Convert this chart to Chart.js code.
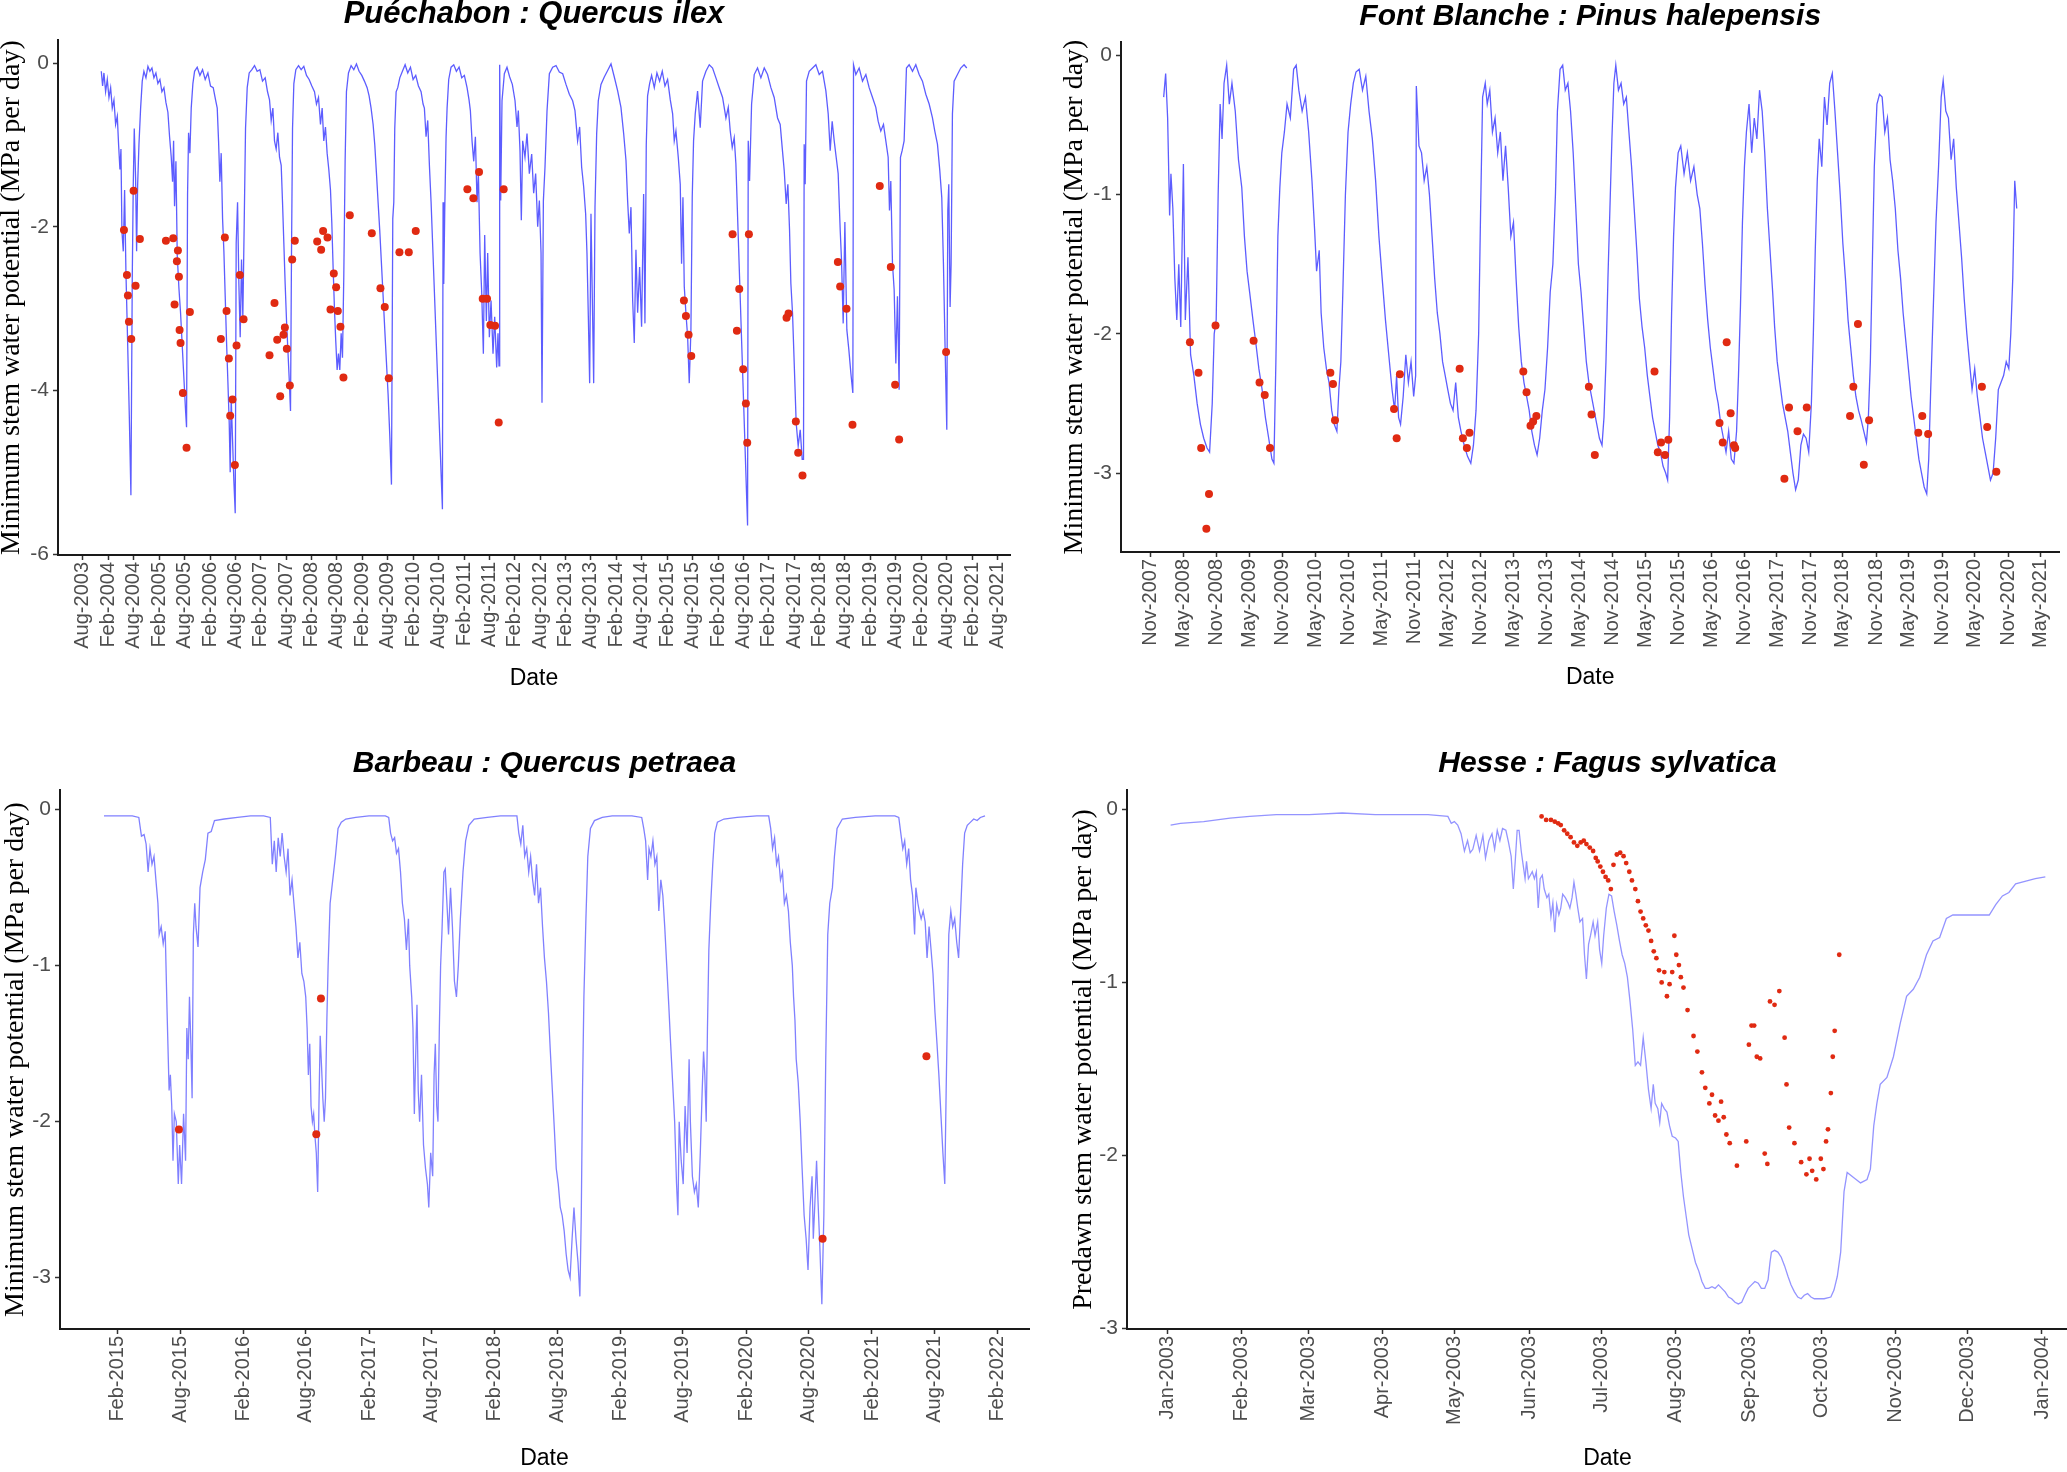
<!DOCTYPE html>
<html>
<head>
<meta charset="utf-8">
<title>Stem water potential</title>
<script src="https://cdn.jsdelivr.net/npm/chart.js@4.4.1/dist/chart.umd.min.js"></script>
<style>
  html, body { margin: 0; padding: 0; background: #fff; }
  body { width: 2067px; height: 1472px; position: relative; overflow: hidden; }
  .panel { position: absolute; }
</style>
</head>
<body>
<div class="panel" style="left:-20px;top:-10px"><canvas id="puechabon" width="1053" height="746"></canvas></div>
<div class="panel" style="left:1033px;top:-10px"><canvas id="fontblanche" width="1034" height="746"></canvas></div>
<div class="panel" style="left:-20px;top:736px"><canvas id="barbeau" width="1053" height="740"></canvas></div>
<div class="panel" style="left:1033px;top:736px"><canvas id="hesse" width="1060" height="740"></canvas></div>
<script>
// ---- Puéchabon (decimal years) ----
const puechabonYear = [
  2003.945,2003.971,2003.997,2004.030,2004.063,2004.096,2004.129,2004.161,2004.194,2004.227,2004.260,2004.286,2004.312,2004.332,
  2004.351,2004.378,2004.404,2004.430,2004.463,2004.496,2004.528,2004.555,2004.574,2004.594,2004.620,2004.640,2004.660,2004.686,
  2004.719,2004.751,2004.784,2004.824,2004.863,2004.902,2004.942,2004.981,2005.020,2005.059,2005.099,2005.138,2005.178,2005.217,
  2005.256,2005.289,2005.322,2005.348,2005.368,2005.387,2005.414,2005.440,2005.473,2005.505,2005.538,2005.571,2005.604,2005.623,
  2005.643,2005.663,2005.689,2005.715,2005.748,2005.781,2005.833,2005.886,2005.938,2005.990,2006.043,2006.095,2006.148,2006.194,
  2006.227,2006.253,2006.279,2006.305,2006.332,2006.358,2006.384,2006.410,2006.437,2006.463,2006.482,2006.502,2006.528,2006.554,
  2006.581,2006.600,2006.627,2006.653,2006.679,2006.705,2006.731,2006.758,2006.784,2006.817,2006.856,2006.909,2006.961,2007.013,
  2007.066,2007.118,2007.171,2007.217,2007.256,2007.289,2007.322,2007.354,2007.387,2007.420,2007.453,2007.486,2007.512,2007.538,
  2007.564,2007.591,2007.617,2007.643,2007.669,2007.689,2007.709,2007.735,2007.774,2007.827,2007.879,2007.931,2007.984,2008.036,
  2008.089,2008.141,2008.180,2008.220,2008.259,2008.292,2008.324,2008.357,2008.390,2008.423,2008.456,2008.482,2008.508,2008.534,
  2008.560,2008.587,2008.613,2008.639,2008.666,2008.692,2008.718,2008.744,2008.770,2008.810,2008.862,2008.915,2008.967,2009.019,
  2009.072,2009.124,2009.177,2009.216,2009.255,2009.295,2009.328,2009.361,2009.393,2009.426,2009.459,2009.492,2009.524,2009.557,
  2009.590,2009.623,2009.656,2009.682,2009.702,2009.721,2009.748,2009.780,2009.820,2009.872,2009.925,2009.977,2010.030,2010.082,
  2010.134,2010.187,2010.239,2010.278,2010.304,2010.337,2010.370,2010.403,2010.436,2010.659,2010.672,2010.685,2010.705,2010.731,
  2010.751,2010.783,2010.829,2010.882,2010.934,2010.987,2011.039,2011.091,2011.144,2011.183,2011.209,2011.242,2011.275,2011.308,
  2011.340,2011.367,2011.400,2011.432,2011.465,2011.491,2011.524,2011.550,2011.583,2011.616,2011.655,2011.688,2011.727,2011.753,
  2011.773,2011.786,2011.806,2011.832,2011.878,2011.930,2011.983,2012.035,2012.088,2012.127,2012.153,2012.186,2012.212,2012.239,
  2012.284,2012.324,2012.370,2012.416,2012.455,2012.494,2012.534,2012.567,2012.600,2012.619,2012.646,2012.678,2012.718,2012.764,
  2012.829,2012.895,2012.960,2013.026,2013.091,2013.157,2013.222,2013.268,2013.320,2013.360,2013.399,2013.439,2013.478,2013.504,
  2013.531,2013.557,2013.583,2013.610,2013.636,2013.662,2013.695,2013.727,2013.780,2013.845,2013.911,2013.977,2014.042,2014.108,
  2014.173,2014.226,2014.272,2014.304,2014.337,2014.370,2014.403,2014.435,2014.468,2014.501,2014.540,2014.579,2014.619,2014.645,
  2014.671,2014.697,2014.737,2014.776,2014.829,2014.881,2014.934,2014.986,2015.039,2015.091,2015.144,2015.190,2015.222,2015.255,
  2015.301,2015.340,2015.366,2015.393,2015.419,2015.452,2015.485,2015.517,2015.550,2015.576,2015.602,2015.635,2015.681,2015.733,
  2015.779,2015.845,2015.911,2015.976,2016.042,2016.107,2016.173,2016.239,2016.285,2016.324,2016.363,2016.402,2016.435,2016.665,
  2016.678,2016.704,2016.744,2016.796,2016.861,2016.927,2016.993,2017.058,2017.124,2017.189,2017.255,2017.307,2017.346,2017.386,
  2017.425,2017.458,2017.491,2017.517,2017.550,2017.583,2017.622,2017.661,2017.701,2017.740,2017.766,2017.779,2017.799,2017.825,
  2017.878,2017.944,2018.009,2018.075,2018.140,2018.206,2018.252,2018.291,2018.330,2018.370,2018.409,2018.448,2018.488,2018.514,
  2018.547,2018.580,2018.619,2018.658,2018.698,2018.737,2018.750,2018.796,2018.861,2018.927,2018.993,2019.058,2019.124,2019.189,
  2019.235,2019.287,2019.340,2019.386,2019.432,2019.458,2019.484,2019.517,2019.550,2019.583,2019.615,2019.648,2019.674,2019.707,
  2019.746,2019.792,2019.845,2019.911,2019.976,2020.042,2020.107,2020.173,2020.239,2020.304,2020.350,2020.402,2020.448,2020.487,
  2020.520,2020.553,2020.586,2020.606,2020.625,2020.651,2020.671,2020.697,2020.730,2020.796,2020.861,2020.926,2020.979
];
const puechabonPsi = [
  -0.10,-0.28,-0.12,-0.35,-0.20,-0.42,-0.30,-0.55,-0.45,-0.75,-0.65,-1.00,-1.30,-1.05,
  -2.05,-2.30,-1.55,-2.55,-3.40,-4.30,-5.28,-2.60,-1.50,-0.80,-1.40,-2.30,-1.50,-1.00,
  -0.55,-0.22,-0.10,-0.18,-0.04,-0.10,-0.06,-0.18,-0.12,-0.25,-0.20,-0.35,-0.30,-0.48,
  -0.60,-0.90,-1.15,-1.45,-0.95,-1.75,-1.20,-2.35,-2.75,-3.05,-3.45,-3.85,-4.25,-4.45,
  -1.60,-0.85,-1.10,-0.55,-0.25,-0.10,-0.05,-0.15,-0.08,-0.20,-0.12,-0.28,-0.30,-0.45,
  -0.55,-0.95,-1.45,-1.10,-1.90,-2.30,-2.85,-3.40,-3.90,-4.40,-5.00,-4.10,-4.60,-5.10,
  -5.50,-2.20,-1.70,-2.70,-3.35,-2.40,-3.10,-1.95,-0.80,-0.30,-0.12,-0.08,-0.03,-0.10,
  -0.08,-0.22,-0.18,-0.35,-0.45,-0.70,-0.55,-0.95,-1.05,-0.85,-1.15,-1.25,-1.70,-2.20,
  -2.70,-3.15,-3.50,-3.85,-4.25,-2.30,-0.80,-0.25,-0.08,-0.03,-0.08,-0.04,-0.15,-0.20,
  -0.28,-0.35,-0.50,-0.42,-0.75,-0.55,-0.95,-0.78,-1.10,-1.30,-1.55,-1.95,-2.50,-3.00,
  -3.40,-3.75,-3.55,-3.75,-3.30,-3.60,-2.60,-1.20,-0.35,-0.12,-0.03,-0.08,-0.01,-0.10,
  -0.15,-0.22,-0.30,-0.40,-0.55,-0.75,-1.00,-1.35,-1.70,-2.05,-2.45,-2.85,-3.25,-3.65,
  -4.05,-4.55,-5.15,-1.90,-1.70,-0.80,-0.35,-0.30,-0.18,-0.10,-0.02,-0.12,-0.05,-0.20,
  -0.15,-0.28,-0.35,-0.50,-0.55,-0.90,-0.70,-1.25,-1.70,-5.45,-1.70,-2.70,-1.80,-0.90,
  -0.55,-0.20,-0.05,-0.02,-0.10,-0.05,-0.18,-0.15,-0.30,-0.45,-0.58,-0.95,-1.20,-0.90,
  -1.70,-1.35,-2.32,-2.80,-3.55,-2.10,-3.15,-2.32,-3.35,-2.90,-3.55,-3.10,-3.72,-3.30,
  -3.70,-0.02,-1.68,-0.46,-0.13,-0.05,-0.17,-0.26,-0.46,-0.78,-0.58,-1.07,-1.92,-0.95,
  -1.15,-0.86,-1.35,-1.11,-1.59,-1.35,-2.00,-1.68,-2.32,-4.15,-1.68,-1.27,-0.58,-0.13,
  -0.05,-0.03,-0.11,-0.13,-0.26,-0.38,-0.46,-0.58,-0.95,-0.78,-1.27,-1.51,-1.84,-2.32,
  -3.10,-3.91,-1.84,-2.89,-3.91,-1.76,-0.86,-0.46,-0.26,-0.17,-0.09,-0.01,-0.17,-0.34,
  -0.54,-0.86,-1.19,-1.68,-2.08,-1.76,-2.89,-3.42,-2.28,-3.05,-2.49,-3.22,-1.60,-3.18,
  -1.00,-0.40,-0.25,-0.15,-0.30,-0.12,-0.22,-0.10,-0.28,-0.20,-0.45,-0.62,-0.95,-0.83,
  -1.15,-1.48,-2.45,-1.64,-2.73,-3.06,-3.34,-3.91,-3.26,-1.64,-0.95,-0.62,-0.34,-0.79,
  -0.22,-0.10,-0.02,-0.06,-0.18,-0.30,-0.42,-0.67,-0.54,-0.83,-1.03,-0.91,-1.23,-5.65,
  -0.95,-1.44,-0.50,-0.14,-0.06,-0.18,-0.06,-0.14,-0.30,-0.42,-0.67,-0.75,-1.03,-1.31,
  -1.72,-1.48,-2.04,-2.69,-3.06,-3.67,-4.40,-4.68,-4.48,-4.84,-4.84,-0.99,-1.48,-0.22,
  -0.10,-0.06,-0.02,-0.14,-0.10,-0.34,-0.62,-1.07,-0.71,-0.95,-1.15,-1.35,-2.04,-2.41,
  -3.18,-1.94,-3.26,-3.50,-3.79,-4.03,-0.02,-0.14,-0.06,-0.22,-0.14,-0.30,-0.42,-0.54,
  -0.71,-0.83,-0.75,-0.95,-1.15,-1.80,-1.44,-2.45,-2.77,-3.67,-2.85,-3.99,-1.15,-1.07,
  -0.95,-0.06,-0.02,-0.10,-0.02,-0.14,-0.22,-0.38,-0.50,-0.67,-0.83,-0.99,-1.31,-1.64,
  -2.45,-3.50,-4.48,-1.80,-1.48,-2.98,-2.45,-0.62,-0.22,-0.14,-0.06,-0.02,-0.06
];
const puechabonObsYear = [
  2004.391,2004.450,2004.469,2004.489,2004.535,2004.581,2004.620,2004.705,2005.217,2005.361,2005.387,2005.433,2005.453,2005.473,
  2005.486,2005.505,2005.551,2005.623,2005.689,2006.299,2006.377,2006.410,2006.456,2006.482,2006.528,2006.574,2006.607,2006.672,
  2006.745,2007.256,2007.354,2007.407,2007.466,2007.531,2007.558,2007.597,2007.656,2007.702,2007.754,2008.194,2008.272,2008.311,
  2008.397,2008.456,2008.521,2008.567,2008.600,2008.652,2008.711,2008.836,2009.269,2009.439,2009.524,2009.603,2009.813,2009.997,
  2010.134,2011.150,2011.268,2011.380,2011.452,2011.537,2011.603,2011.695,2011.767,2011.865,2015.412,2015.452,2015.504,2015.557,
  2016.370,2016.455,2016.501,2016.579,2016.632,2016.658,2016.691,2017.432,2017.471,2017.615,2017.661,2017.746,2018.442,2018.487,
  2018.612,2018.730,2019.267,2019.484,2019.569,2019.648,2020.572
];
const puechabonObsPsi = [
  -2.04,-2.59,-2.84,-3.16,-3.37,-1.56,-2.72,-2.15,-2.17,-2.14,-2.95,-2.42,-2.29,-2.61,
  -3.26,-3.42,-4.03,-4.70,-3.04,-3.37,-2.13,-3.03,-3.61,-4.31,-4.11,-4.91,-3.45,-2.59,
  -3.13,-3.57,-2.93,-3.38,-4.07,-3.32,-3.23,-3.49,-3.94,-2.40,-2.17,-2.18,-2.28,-2.05,
  -2.13,-3.01,-2.57,-2.74,-3.03,-3.22,-3.84,-1.86,-2.08,-2.75,-2.98,-3.85,-2.31,-2.31,
  -2.05,-1.54,-1.65,-1.33,-2.88,-2.88,-3.20,-3.21,-4.39,-1.54,-2.90,-3.09,-3.32,-3.58,
  -2.09,-3.27,-2.76,-3.74,-4.16,-4.64,-2.09,-3.11,-3.06,-4.38,-4.76,-5.04,-2.43,-2.73,
  -3.00,-4.42,-1.50,-2.49,-3.93,-4.60,-3.53
];
const puechabonTickLabels = [
  "Aug-2003","Feb-2004","Aug-2004","Feb-2005","Aug-2005","Feb-2006","Aug-2006","Feb-2007","Aug-2007","Feb-2008",
  "Aug-2008","Feb-2009","Aug-2009","Feb-2010","Aug-2010","Feb-2011","Aug-2011","Feb-2012","Aug-2012","Feb-2013",
  "Aug-2013","Feb-2014","Aug-2014","Feb-2015","Aug-2015","Feb-2016","Aug-2016","Feb-2017","Aug-2017","Feb-2018",
  "Aug-2018","Feb-2019","Aug-2019","Feb-2020","Aug-2020","Feb-2021","Aug-2021"
];
const puechabonYTicks = [0, -2, -4, -6];

// ---- Font Blanche (decimal years) ----
const fontBlancheYear = [
  2008.031,2008.061,2008.091,2008.121,2008.141,2008.170,2008.200,2008.230,2008.260,2008.290,2008.330,2008.359,2008.399,2008.439,
  2008.489,2008.538,2008.588,2008.638,2008.688,2008.727,2008.767,2008.797,2008.827,2008.857,2008.887,2008.916,2008.946,2008.986,
  2009.026,2009.066,2009.116,2009.165,2009.215,2009.255,2009.295,2009.334,2009.384,2009.424,2009.474,2009.523,2009.573,2009.623,
  2009.672,2009.702,2009.732,2009.762,2009.792,2009.822,2009.861,2009.901,2009.951,2010.001,2010.040,2010.080,2010.130,2010.180,
  2010.229,2010.279,2010.319,2010.349,2010.389,2010.418,2010.458,2010.498,2010.538,2010.578,2010.617,2010.657,2010.687,2010.717,
  2010.747,2010.786,2010.826,2010.866,2010.906,2010.946,2010.995,2011.045,2011.095,2011.144,2011.194,2011.244,2011.294,2011.343,
  2011.393,2011.443,2011.493,2011.532,2011.562,2011.592,2011.622,2011.662,2011.702,2011.741,2011.781,2011.821,2011.851,2011.861,
  2011.901,2011.940,2011.980,2012.020,2012.060,2012.100,2012.139,2012.179,2012.219,2012.259,2012.299,2012.338,2012.378,2012.418,
  2012.458,2012.498,2012.538,2012.587,2012.637,2012.687,2012.727,2012.766,2012.806,2012.836,2012.866,2012.906,2012.936,2012.975,
  2013.015,2013.055,2013.095,2013.135,2013.174,2013.214,2013.254,2013.294,2013.334,2013.373,2013.413,2013.453,2013.493,2013.533,
  2013.572,2013.612,2013.652,2013.692,2013.731,2013.771,2013.811,2013.851,2013.891,2013.931,2013.970,2014.000,2014.040,2014.080,
  2014.119,2014.159,2014.199,2014.239,2014.279,2014.318,2014.358,2014.398,2014.438,2014.477,2014.517,2014.557,2014.597,2014.637,
  2014.676,2014.706,2014.736,2014.766,2014.796,2014.826,2014.856,2014.885,2014.925,2014.965,2015.005,2015.045,2015.084,2015.124,
  2015.164,2015.203,2015.243,2015.283,2015.323,2015.363,2015.402,2015.442,2015.482,2015.522,2015.562,2015.601,2015.641,2015.671,
  2015.701,2015.731,2015.761,2015.790,2015.830,2015.870,2015.920,2015.970,2016.019,2016.069,2016.119,2016.159,2016.198,2016.238,
  2016.278,2016.318,2016.358,2016.397,2016.437,2016.477,2016.517,2016.556,2016.596,2016.636,2016.676,2016.716,2016.745,2016.775,
  2016.805,2016.835,2016.865,2016.905,2016.945,2016.984,2017.024,2017.064,2017.104,2017.143,2017.183,2017.223,2017.263,2017.293,
  2017.332,2017.372,2017.412,2017.452,2017.492,2017.531,2017.571,2017.611,2017.651,2017.691,2017.730,2017.770,2017.810,2017.850,
  2017.880,2017.909,2017.939,2017.969,2018.008,2018.048,2018.088,2018.128,2018.167,2018.207,2018.247,2018.287,2018.327,2018.366,
  2018.406,2018.446,2018.486,2018.525,2018.565,2018.605,2018.645,2018.685,2018.714,2018.744,2018.774,2018.804,2018.844,2018.883,
  2018.923,2018.963,2019.003,2019.043,2019.082,2019.122,2019.162,2019.202,2019.241,2019.281,2019.321,2019.361,2019.401,2019.440,
  2019.480,2019.520,2019.560,2019.599,2019.629,2019.659,2019.699,2019.739,2019.778,2019.818,2019.848,2019.888,2019.928,2019.968,
  2020.007,2020.047,2020.087,2020.127,2020.167,2020.207,2020.246,2020.286,2020.326,2020.366,2020.406,2020.445,2020.485,2020.525,
  2020.565,2020.605,2020.644,2020.684,2020.724,2020.764,2020.804,2020.843,2020.873,2020.903,2020.933,2020.963
];
const fontBlanchePsi = [
  -0.30,-0.13,-0.45,-1.15,-0.85,-1.10,-1.60,-1.90,-1.50,-1.95,-0.78,-1.90,-1.45,-2.15,
  -2.30,-2.50,-2.65,-2.75,-2.82,-2.85,-2.50,-2.00,-1.90,-1.00,-0.35,-0.60,-0.20,-0.07,
  -0.35,-0.20,-0.40,-0.75,-0.95,-1.30,-1.55,-1.70,-1.90,-2.05,-2.25,-2.40,-2.60,-2.75,
  -2.90,-2.93,-2.20,-1.30,-0.95,-0.70,-0.55,-0.35,-0.45,-0.10,-0.07,-0.25,-0.40,-0.30,
  -0.55,-0.90,-1.25,-1.55,-1.40,-1.85,-2.10,-2.25,-2.35,-2.55,-2.65,-2.70,-2.40,-2.20,
  -1.70,-1.00,-0.55,-0.35,-0.20,-0.12,-0.10,-0.25,-0.15,-0.40,-0.60,-0.90,-1.30,-1.60,
  -1.90,-2.15,-2.40,-2.55,-2.30,-2.60,-2.65,-2.45,-2.15,-2.35,-2.20,-2.45,-2.30,-0.22,
  -0.65,-0.70,-0.90,-0.80,-1.00,-1.30,-1.60,-1.85,-2.00,-2.20,-2.30,-2.40,-2.50,-2.55,
  -2.35,-2.60,-2.70,-2.80,-2.88,-2.93,-2.80,-2.55,-2.00,-1.10,-0.30,-0.20,-0.35,-0.25,
  -0.55,-0.45,-0.70,-0.55,-0.90,-0.65,-0.95,-1.30,-1.20,-1.60,-1.95,-2.20,-2.35,-2.45,
  -2.55,-2.70,-2.80,-2.87,-2.75,-2.55,-2.40,-2.10,-1.70,-1.50,-1.00,-0.40,-0.10,-0.07,
  -0.25,-0.20,-0.40,-0.70,-1.10,-1.50,-1.70,-1.95,-2.20,-2.35,-2.45,-2.55,-2.65,-2.75,
  -2.80,-2.60,-2.20,-1.60,-1.10,-0.60,-0.20,-0.07,-0.25,-0.20,-0.35,-0.30,-0.55,-0.80,
  -1.10,-1.40,-1.75,-1.95,-2.10,-2.30,-2.45,-2.60,-2.70,-2.80,-2.85,-2.95,-3.00,-3.05,
  -2.60,-1.85,-1.30,-0.95,-0.70,-0.65,-0.85,-0.70,-0.90,-0.80,-1.00,-1.10,-1.35,-1.65,
  -1.90,-2.10,-2.25,-2.40,-2.50,-2.65,-2.75,-2.85,-2.70,-2.90,-2.93,-2.70,-2.30,-1.80,
  -1.20,-0.80,-0.55,-0.35,-0.70,-0.45,-0.60,-0.25,-0.40,-0.70,-1.10,-1.40,-1.70,-1.95,
  -2.20,-2.35,-2.50,-2.60,-2.70,-2.85,-3.00,-3.12,-3.05,-2.80,-2.72,-2.75,-2.85,-2.50,
  -2.00,-1.40,-0.90,-0.60,-0.80,-0.30,-0.50,-0.20,-0.13,-0.40,-0.70,-1.00,-1.35,-1.60,
  -1.90,-2.10,-2.30,-2.45,-2.55,-2.62,-2.70,-2.78,-2.60,-2.20,-1.50,-0.80,-0.35,-0.28,
  -0.30,-0.55,-0.45,-0.75,-0.90,-1.10,-1.40,-1.60,-1.85,-2.05,-2.25,-2.45,-2.60,-2.75,
  -2.90,-3.00,-3.10,-3.15,-2.90,-2.40,-1.80,-1.20,-0.80,-0.30,-0.18,-0.40,-0.45,-0.75,
  -0.60,-0.95,-1.20,-1.45,-1.75,-2.00,-2.20,-2.40,-2.25,-2.45,-2.60,-2.75,-2.85,-2.95,
  -3.05,-3.00,-2.75,-2.40,-2.35,-2.30,-2.20,-2.25,-2.00,-1.60,-0.90,-1.10
];
const fontBlancheObsYear = [
  2008.429,2008.559,2008.599,2008.678,2008.718,2008.817,2009.394,2009.484,2009.563,2009.643,2010.558,2010.598,2010.628,2011.523,
  2011.563,2011.612,2012.518,2012.567,2012.627,2012.667,2013.483,2013.532,2013.592,2013.632,2013.681,2014.477,2014.517,2014.567,
  2015.472,2015.522,2015.571,2015.631,2015.681,2016.457,2016.506,2016.566,2016.626,2016.676,2016.695,2017.441,2017.511,2017.640,
  2017.780,2018.436,2018.486,2018.556,2018.645,2018.725,2019.471,2019.531,2019.620,2020.435,2020.515,2020.654
];
const fontBlancheObsPsi = [
  -2.06,-2.28,-2.82,-3.40,-3.15,-1.94,-2.05,-2.35,-2.44,-2.82,-2.28,-2.36,-2.62,-2.54,
  -2.75,-2.29,-2.25,-2.75,-2.82,-2.71,-2.27,-2.42,-2.66,-2.63,-2.59,-2.38,-2.58,-2.87,
  -2.27,-2.85,-2.78,-2.87,-2.76,-2.64,-2.78,-2.06,-2.57,-2.80,-2.82,-3.04,-2.53,-2.70,
  -2.53,-2.59,-2.38,-1.93,-2.94,-2.62,-2.71,-2.59,-2.72,-2.38,-2.67,-2.99
];
const fontBlancheTickLabels = [
  "Nov-2007","May-2008","Nov-2008","May-2009","Nov-2009","May-2010","Nov-2010","May-2011","Nov-2011","May-2012",
  "Nov-2012","May-2013","Nov-2013","May-2014","Nov-2014","May-2015","Nov-2015","May-2016","Nov-2016","May-2017",
  "Nov-2017","May-2018","Nov-2018","May-2019","Nov-2019","May-2020","Nov-2020","May-2021"
];
const fontBlancheYTicks = [0, -1, -2, -3];

// ---- Barbeau (decimal years) ----
const barbeauYear = [
  2014.975,2015.095,2015.200,2015.252,2015.273,2015.294,2015.310,2015.326,2015.341,2015.357,2015.373,2015.388,2015.404,2015.414,
  2015.430,2015.446,2015.462,2015.477,2015.493,2015.503,2015.514,2015.524,2015.535,2015.550,2015.566,2015.577,2015.592,2015.608,
  2015.624,2015.634,2015.645,2015.655,2015.666,2015.676,2015.686,2015.697,2015.707,2015.723,2015.739,2015.760,2015.781,2015.802,
  2015.828,2015.854,2015.932,2016.037,2016.141,2016.246,2016.298,2016.314,2016.330,2016.345,2016.361,2016.377,2016.392,2016.408,
  2016.424,2016.439,2016.455,2016.471,2016.486,2016.502,2016.518,2016.533,2016.549,2016.565,2016.580,2016.591,2016.601,2016.612,
  2016.622,2016.633,2016.643,2016.654,2016.664,2016.675,2016.685,2016.695,2016.706,2016.716,2016.727,2016.737,2016.748,2016.758,
  2016.774,2016.795,2016.816,2016.837,2016.863,2016.899,2016.978,2017.083,2017.213,2017.240,2017.255,2017.271,2017.287,2017.302,
  2017.318,2017.334,2017.349,2017.365,2017.381,2017.397,2017.407,2017.423,2017.433,2017.444,2017.454,2017.465,2017.475,2017.486,
  2017.501,2017.517,2017.533,2017.548,2017.559,2017.574,2017.590,2017.601,2017.611,2017.622,2017.632,2017.643,2017.653,2017.663,
  2017.679,2017.690,2017.700,2017.716,2017.732,2017.747,2017.763,2017.779,2017.794,2017.810,2017.831,2017.852,2017.878,2017.920,
  2018.024,2018.129,2018.260,2018.275,2018.291,2018.307,2018.322,2018.338,2018.354,2018.369,2018.385,2018.401,2018.416,2018.432,
  2018.448,2018.464,2018.479,2018.495,2018.511,2018.526,2018.542,2018.558,2018.573,2018.589,2018.605,2018.620,2018.636,2018.652,
  2018.667,2018.683,2018.699,2018.714,2018.730,2018.746,2018.761,2018.772,2018.782,2018.793,2018.809,2018.824,2018.845,2018.877,
  2018.939,2019.018,2019.175,2019.253,2019.269,2019.284,2019.300,2019.311,2019.326,2019.342,2019.358,2019.373,2019.389,2019.405,
  2019.421,2019.436,2019.452,2019.468,2019.483,2019.499,2019.515,2019.530,2019.541,2019.551,2019.567,2019.583,2019.598,2019.614,
  2019.630,2019.640,2019.656,2019.672,2019.687,2019.703,2019.719,2019.734,2019.745,2019.755,2019.766,2019.776,2019.787,2019.802,
  2019.818,2019.834,2019.855,2019.907,2020.012,2020.169,2020.263,2020.279,2020.294,2020.310,2020.326,2020.341,2020.357,2020.373,
  2020.388,2020.404,2020.420,2020.435,2020.451,2020.461,2020.472,2020.482,2020.498,2020.514,2020.529,2020.545,2020.561,2020.576,
  2020.592,2020.608,2020.618,2020.629,2020.644,2020.655,2020.670,2020.686,2020.702,2020.717,2020.733,2020.749,2020.770,2020.786,
  2020.807,2020.849,2020.953,2021.110,2021.267,2021.298,2021.314,2021.330,2021.345,2021.361,2021.377,2021.392,2021.408,2021.424,
  2021.434,2021.450,2021.461,2021.476,2021.492,2021.508,2021.523,2021.539,2021.555,2021.570,2021.586,2021.602,2021.617,2021.633,
  2021.649,2021.664,2021.675,2021.685,2021.696,2021.712,2021.727,2021.743,2021.759,2021.774,2021.790,2021.806,2021.822,2021.843,
  2021.869,2021.894,2021.921,2021.947,2021.984
];
const barbeauPsi = [
  -0.04,-0.04,-0.04,-0.05,-0.17,-0.16,-0.22,-0.40,-0.25,-0.35,-0.30,-0.45,-0.60,-0.80,
  -0.75,-0.86,-0.78,-1.30,-1.80,-1.70,-1.90,-2.25,-1.95,-2.00,-2.40,-2.15,-2.40,-1.95,
  -2.25,-1.40,-1.60,-1.20,-1.50,-1.85,-0.80,-0.60,-0.75,-0.88,-0.50,-0.40,-0.32,-0.15,
  -0.14,-0.07,-0.06,-0.05,-0.04,-0.04,-0.05,-0.35,-0.20,-0.40,-0.18,-0.30,-0.15,-0.30,
  -0.40,-0.25,-0.55,-0.45,-0.60,-0.75,-0.95,-0.85,-1.05,-1.10,-1.20,-1.40,-1.70,-1.50,
  -1.90,-2.00,-1.95,-2.10,-2.20,-2.45,-1.90,-1.45,-1.65,-1.85,-2.00,-1.85,-1.35,-1.00,
  -0.60,-0.45,-0.30,-0.12,-0.08,-0.06,-0.05,-0.04,-0.04,-0.05,-0.15,-0.20,-0.18,-0.28,
  -0.25,-0.40,-0.60,-0.70,-0.90,-0.70,-1.00,-1.20,-1.40,-1.95,-1.60,-1.25,-1.80,-2.00,
  -1.70,-2.15,-2.30,-2.40,-2.55,-2.20,-2.35,-1.70,-1.50,-1.90,-2.00,-1.40,-1.00,-0.80,
  -0.40,-0.38,-0.55,-0.80,-0.50,-0.75,-1.10,-1.20,-1.00,-0.70,-0.40,-0.20,-0.10,-0.06,
  -0.05,-0.04,-0.04,-0.15,-0.22,-0.10,-0.30,-0.25,-0.40,-0.30,-0.45,-0.55,-0.35,-0.60,
  -0.50,-0.75,-0.95,-1.10,-1.30,-1.55,-1.80,-2.05,-2.30,-2.40,-2.55,-2.60,-2.70,-2.85,
  -2.95,-3.00,-2.75,-2.55,-2.75,-2.90,-3.12,-2.60,-1.80,-1.20,-0.70,-0.30,-0.12,-0.07,
  -0.05,-0.04,-0.04,-0.05,-0.12,-0.20,-0.45,-0.25,-0.30,-0.20,-0.35,-0.30,-0.65,-0.45,
  -0.55,-0.75,-1.00,-1.25,-1.50,-1.75,-2.00,-2.40,-2.60,-2.00,-2.25,-2.40,-1.90,-2.20,
  -1.60,-2.00,-2.35,-2.45,-2.40,-2.55,-2.20,-1.80,-1.55,-1.70,-2.00,-1.40,-0.90,-0.60,
  -0.35,-0.15,-0.08,-0.06,-0.05,-0.04,-0.04,-0.12,-0.25,-0.18,-0.35,-0.30,-0.45,-0.40,
  -0.60,-0.55,-0.65,-0.85,-1.00,-1.20,-1.35,-1.60,-1.75,-2.00,-2.30,-2.60,-2.75,-2.95,
  -2.55,-2.35,-2.75,-2.55,-2.25,-2.50,-2.80,-3.17,-2.60,-1.60,-0.80,-0.60,-0.50,-0.30,
  -0.12,-0.06,-0.05,-0.04,-0.04,-0.05,-0.15,-0.25,-0.20,-0.35,-0.25,-0.45,-0.55,-0.80,
  -0.50,-0.60,-0.65,-0.70,-0.65,-0.72,-0.95,-0.75,-0.90,-1.05,-1.30,-1.50,-1.70,-1.95,
  -2.20,-2.40,-1.80,-1.30,-0.80,-0.65,-0.75,-0.70,-0.85,-0.95,-0.65,-0.35,-0.15,-0.10,
  -0.08,-0.06,-0.07,-0.05,-0.04
];
const barbeauObsYear = [2015.571, 2016.664, 2016.701, 2020.692, 2021.518];
const barbeauObsPsi = [-2.05, -2.08, -1.21, -2.75, -1.58];
const barbeauTickLabels = [
  "Feb-2015","Aug-2015","Feb-2016","Aug-2016","Feb-2017","Aug-2017","Feb-2018","Aug-2018",
  "Feb-2019","Aug-2019","Feb-2020","Aug-2020","Feb-2021","Aug-2021","Feb-2022"
];
const barbeauYTicks = [0, -1, -2, -3];

// ---- Hesse (days since 1 Jan 2003) ----
const hesseDay = [
  1.4,5.5,15.2,26.2,34.4,45.5,59.2,73.0,86.8,100.6,108.8,117.1,118.5,119.8,121.2,122.6,124.0,125.3,126.4,127.5,
  128.9,130.3,131.7,132.8,134.2,135.5,136.6,137.7,138.8,139.9,141.3,142.4,143.5,144.4,145.2,146.0,146.8,147.7,148.5,149.3,
  149.9,150.7,151.5,152.3,153.2,154.0,154.8,155.6,156.5,157.3,158.4,159.2,160.1,160.9,161.7,162.5,163.4,164.2,165.0,166.1,
  167.2,168.0,168.9,169.7,170.5,171.3,172.2,173.3,174.1,174.9,175.8,176.6,177.7,178.5,179.6,180.4,181.3,182.1,183.2,184.3,
  185.4,186.5,187.6,188.7,189.8,190.9,192.0,193.1,194.2,195.3,196.4,197.5,198.6,199.7,200.8,201.9,202.8,203.6,204.7,205.5,
  206.3,207.4,208.5,209.6,210.7,212.1,213.2,214.3,215.4,216.5,217.6,219.0,220.4,221.8,223.1,224.5,225.9,227.3,228.6,230.0,
  231.4,232.8,234.2,235.5,236.9,238.3,239.7,241.0,242.4,243.8,245.2,246.6,247.9,249.3,250.7,251.5,252.1,253.4,254.8,256.2,
  257.6,259.0,260.3,261.7,263.1,264.5,265.8,267.2,268.6,270.0,271.3,274.1,276.9,278.2,279.6,281.0,282.4,283.7,286.5,289.3,
  292.0,293.4,294.8,296.1,297.5,300.3,303.0,305.8,308.5,311.3,314.0,316.8,319.5,322.3,325.1,327.8,332.0,337.5,343.0,345.7,
  348.5,351.2,354.0,356.7,362.2,366.4
];
const hessePsi = [
  -0.09,-0.08,-0.07,-0.05,-0.04,-0.03,-0.03,-0.02,-0.03,-0.03,-0.03,-0.04,-0.08,-0.07,-0.09,-0.14,-0.24,-0.18,-0.25,-0.23,
  -0.15,-0.24,-0.15,-0.28,-0.18,-0.14,-0.23,-0.12,-0.18,-0.11,-0.12,-0.19,-0.27,-0.46,-0.30,-0.12,-0.12,-0.24,-0.32,-0.40,
  -0.30,-0.40,-0.38,-0.36,-0.40,-0.36,-0.57,-0.40,-0.38,-0.46,-0.51,-0.49,-0.62,-0.54,-0.71,-0.55,-0.61,-0.57,-0.49,-0.51,
  -0.54,-0.57,-0.51,-0.42,-0.49,-0.57,-0.65,-0.63,-0.84,-0.98,-0.78,-0.73,-0.65,-0.73,-0.65,-0.81,-0.89,-0.73,-0.57,-0.49,
  -0.50,-0.59,-0.67,-0.76,-0.84,-0.89,-0.97,-1.11,-1.27,-1.48,-1.46,-1.48,-1.32,-1.46,-1.62,-1.73,-1.59,-1.70,-1.73,-1.81,
  -1.70,-1.73,-1.75,-1.83,-1.89,-1.90,-1.92,-2.10,-2.24,-2.35,-2.46,-2.54,-2.62,-2.67,-2.73,-2.77,-2.77,-2.76,-2.77,-2.75,
  -2.77,-2.79,-2.82,-2.83,-2.85,-2.86,-2.85,-2.81,-2.77,-2.75,-2.73,-2.74,-2.77,-2.77,-2.72,-2.62,-2.56,-2.55,-2.56,-2.59,
  -2.64,-2.70,-2.75,-2.79,-2.82,-2.83,-2.81,-2.80,-2.82,-2.83,-2.83,-2.83,-2.82,-2.78,-2.70,-2.56,-2.21,-2.10,-2.13,-2.16,
  -2.14,-2.08,-1.83,-1.70,-1.59,-1.55,-1.43,-1.24,-1.08,-1.04,-0.97,-0.84,-0.76,-0.74,-0.63,-0.61,-0.61,-0.61,-0.61,-0.55,
  -0.50,-0.48,-0.43,-0.42,-0.40,-0.39
];
const hesseObsDay = [
  156.2,158.1,160.1,161.7,163.1,164.2,165.6,166.9,168.3,169.7,171.1,172.5,173.8,174.9,176.3,177.7,178.8,179.6,180.7,181.8,
  182.9,184.0,185.1,186.2,187.6,189.0,190.4,191.5,192.8,193.9,195.3,196.4,197.5,198.6,199.7,200.8,201.9,203.0,204.1,205.2,
  206.3,207.4,208.5,209.6,210.7,211.6,212.4,213.5,214.3,215.4,217.1,219.6,221.2,223.1,224.5,226.2,227.3,228.6,230.0,231.1,
  232.2,233.3,234.7,237.7,241.6,242.7,243.8,244.9,246.0,247.4,249.3,250.4,251.5,253.4,255.4,257.6,258.4,259.5,261.7,264.5,
  266.7,268.0,269.1,270.8,272.7,273.8,274.9,275.7,276.9,277.7,278.5,280.4
];
const hesseObsPsi = [
  -0.04,-0.06,-0.06,-0.07,-0.08,-0.09,-0.12,-0.14,-0.16,-0.19,-0.21,-0.19,-0.18,-0.20,-0.22,-0.24,-0.28,-0.30,-0.33,-0.36,
  -0.39,-0.41,-0.46,-0.32,-0.26,-0.25,-0.27,-0.31,-0.36,-0.41,-0.46,-0.53,-0.59,-0.63,-0.67,-0.70,-0.76,-0.82,-0.86,-0.93,
  -1.00,-0.94,-1.08,-1.01,-0.94,-0.73,-0.84,-0.90,-0.97,-1.03,-1.16,-1.31,-1.40,-1.52,-1.61,-1.70,-1.65,-1.77,-1.80,-1.69,
  -1.78,-1.88,-1.93,-2.06,-1.92,-1.36,-1.25,-1.25,-1.43,-1.44,-1.99,-2.05,-1.11,-1.13,-1.05,-1.32,-1.59,-1.84,-1.93,-2.04,
  -2.11,-2.02,-2.09,-2.14,-2.02,-2.08,-1.92,-1.85,-1.64,-1.43,-1.28,-0.84
];
const hesseTickLabels = [
  "Jan-2003","Feb-2003","Mar-2003","Apr-2003","May-2003","Jun-2003","Jul-2003",
  "Aug-2003","Sep-2003","Oct-2003","Nov-2003","Dec-2003","Jan-2004"
];
const hesseYTicks = [0, -1, -2, -3];

// month label helpers
const MONTH_START = {Jan: 0, Feb: 31, Mar: 59, Apr: 90, May: 120, Jun: 151, Jul: 181, Aug: 212, Sep: 243, Oct: 273, Nov: 304, Dec: 334};
function labelToYear(label) {
  const [m, y] = label.split("-");
  return Number(y) + MONTH_START[m] / 365;
}
function labelToDay(label) {
  const [m, y] = label.split("-");
  return (Number(y) - 2003) * 365 + MONTH_START[m];
}
const zip = (xs, ys) => xs.map((x, i) => ({x, y: ys[i]}));

const SANS = '"Liberation Sans", Arial, Helvetica, sans-serif';
const SERIF = '"Liberation Serif", "Times New Roman", Times, serif';
const OBS_RED = "#e02a12";
const TICK_GREY = "#4d4d4d";

Chart.defaults.font.family = SANS;

function makePanel(p) {
  const tickValues = p.tickLabels.map(p.toX);
  return new Chart(document.getElementById(p.id), {
    type: "scatter",
    data: {
      datasets: [
        {
          data: zip(p.obsX, p.obsY),
          backgroundColor: OBS_RED,
          borderWidth: 0,
          pointRadius: p.obsRadius,
          order: 0,
        },
        {
          data: zip(p.lineX, p.lineY),
          showLine: true,
          borderColor: p.lineColor,
          borderWidth: 1.3,
          pointRadius: 0,
          tension: 0,
          order: 1,
        },
      ],
    },
    options: {
      responsive: false,
      animation: false,
      events: [],
      layout: {padding: p.pad},
      plugins: {
        legend: {display: false},
        tooltip: {enabled: false},
        title: {
          display: true,
          text: p.title,
          fullSize: false,
          color: "#000",
          font: {family: SANS, size: p.titleSize, weight: "bold", style: "italic"},
          padding: p.titlePad,
        },
      },
      scales: {
        x: {
          type: "linear",
          min: p.xMin,
          max: p.xMax,
          afterFit: s => { s.height = p.xHeight; },
          afterBuildTicks: s => { s.ticks = tickValues.map(v => ({value: v})); },
          ticks: {
            autoSkip: false,
            minRotation: 90,
            maxRotation: 90,
            padding: 2,
            color: TICK_GREY,
            font: {size: 20},
            callback: (v, i) => p.tickLabels[i],
          },
          grid: {drawOnChartArea: false, drawTicks: true, tickLength: 5, tickWidth: 1.5, color: "#333"},
          border: {display: true, color: "#1a1a1a", width: 2},
          title: {display: true, text: "Date", color: "#000", font: {size: 23}, padding: {top: 0, bottom: 0}},
        },
        y: {
          type: "linear",
          min: p.yMin,
          max: p.yMax,
          afterFit: s => { s.width = p.yWidth; },
          afterBuildTicks: s => { s.ticks = p.yTicks.map(v => ({value: v})); },
          ticks: {padding: 4, color: TICK_GREY, font: {size: 21}},
          grid: {drawOnChartArea: false, drawTicks: true, tickLength: 5, tickWidth: 1.5, color: "#333"},
          border: {display: true, color: "#1a1a1a", width: 2},
          title: {
            display: true,
            text: p.yTitle,
            color: "#000",
            font: {family: SERIF, size: 28},
            padding: {top: p.yTitlePad, bottom: 0},
          },
        },
      },
    },
  });
}

const MIN_PSI = "Minimum stem water potential (MPa per day)";

makePanel({
  id: "puechabon", title: "Puéchabon : Quercus ilex", titleSize: 31, yTitle: MIN_PSI,
  lineX: puechabonYear, lineY: puechabonPsi, obsX: puechabonObsYear, obsY: puechabonObsPsi, obsRadius: 4,
  lineColor: "rgba(30, 30, 255, 0.72)",
  tickLabels: puechabonTickLabels, toX: labelToYear, yTicks: puechabonYTicks,
  xMin: 2003.093, xMax: 2021.83, yMin: -6.01, yMax: 0.28,
  pad: {left: 0, top: 0, right: 23, bottom: 43.2}, titlePad: {top: 6, bottom: 7},
  yWidth: 78, yTitlePad: 15.2, xHeight: 137.8,
});

makePanel({
  id: "fontblanche", title: "Font Blanche : Pinus halepensis", titleSize: 30, yTitle: MIN_PSI,
  lineX: fontBlancheYear, lineY: fontBlanchePsi, obsX: fontBlancheObsYear, obsY: fontBlancheObsPsi, obsRadius: 4,
  lineColor: "rgba(30, 30, 255, 0.72)",
  tickLabels: fontBlancheTickLabels, toX: labelToYear, yTicks: fontBlancheYTicks,
  xMin: 2007.384, xMax: 2021.61, yMin: -3.567, yMax: 0.096,
  pad: {left: 0, top: 0, right: 4, bottom: 44.2}, titlePad: {top: 9, bottom: 7},
  yWidth: 88, yTitlePad: 25.2, xHeight: 139.8,
});

makePanel({
  id: "barbeau", title: "Barbeau : Quercus petraea", titleSize: 30, yTitle: MIN_PSI,
  lineX: barbeauYear, lineY: barbeauPsi, obsX: barbeauObsYear, obsY: barbeauObsPsi, obsRadius: 4,
  lineColor: "rgba(50, 50, 255, 0.62)",
  tickLabels: barbeauTickLabels, toX: labelToYear, yTicks: barbeauYTicks,
  xMin: 2014.625, xMax: 2022.334, yMin: -3.329, yMax: 0.126,
  pad: {left: 0, top: 0, right: 3, bottom: 3.2}, titlePad: {top: 10, bottom: 8},
  yWidth: 80, yTitlePad: 19.2, xHeight: 143.8,
});

makePanel({
  id: "hesse", title: "Hesse : Fagus sylvatica", titleSize: 30, yTitle: "Predawn stem water potential (MPa per day)",
  lineX: hesseDay, lineY: hessePsi, obsX: hesseObsDay, obsY: hesseObsPsi, obsRadius: 2.4,
  lineColor: "rgba(60, 60, 255, 0.55)",
  tickLabels: hesseTickLabels, toX: labelToDay, yTicks: hesseYTicks,
  xMin: -16.8, xMax: 384.2, yMin: -3.005, yMax: 0.113,
  pad: {left: 0, top: 0, right: 5, bottom: 3.2}, titlePad: {top: 10, bottom: 8},
  yWidth: 94, yTitlePad: 34.2, xHeight: 143.8,
});
</script>
</body>
</html>
